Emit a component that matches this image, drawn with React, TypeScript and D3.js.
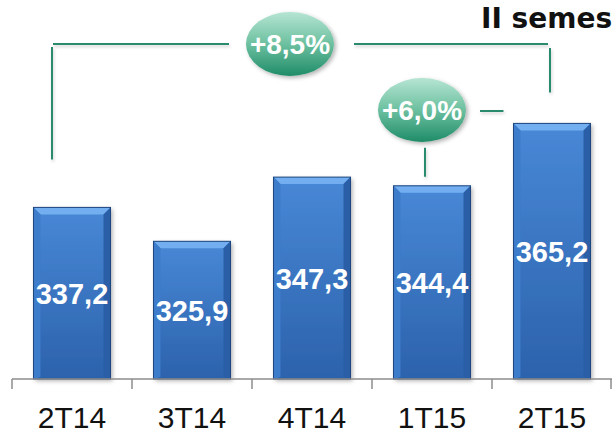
import React from 'react';
import * as d3 from 'd3';

const categories = ['2T14', '3T14', '4T14', '1T15', '2T15'];
const values = [337.2, 325.9, 347.3, 344.4, 365.2];
const valueLabels = ['337,2', '325,9', '347,3', '344,4', '365,2'];
const growthLabels = ['+8,5%', '+6,0%'];
const title = 'II semestre';

document.body.style.margin = '0';

const W = 612;
const H = 433;

const App = () => {
  const x = d3.scaleBand().domain(categories).range([12, 612]).paddingInner(0.358).paddingOuter(0.179);
  const y = d3.scaleLinear().domain([280, 380]).range([379, 79]);
  const bw = x.bandwidth();
  const cx = (c) => (x(c) ?? 0) + bw / 2;
  const bev = 7;

  // bracket geometry from scales
  const first = categories[0];
  const last = categories[categories.length - 1];
  const prev = categories[3];
  const b1 = { x: 290, y: 44 };
  const b2 = { x: 422, y: 110 };
  const lx = cx(first) - 20;
  const rx = cx(last) - 2;
  const green = '#2b8a6e';

  return (
    <svg width={W} height={H} style={{ display: 'block', background: '#fff' }} fontFamily="'Liberation Sans', Arial, sans-serif">
      <defs>
        <linearGradient id="barG" x1="0" y1="0" x2="0" y2="1">
          <stop offset="0" stopColor="#4888d6" />
          <stop offset="1" stopColor="#2c62ac" />
        </linearGradient>
        <linearGradient id="bubG" x1="0" y1="0" x2="0" y2="1">
          <stop offset="0" stopColor="#b6e5d3" />
          <stop offset="0.5" stopColor="#6cc0a0" />
          <stop offset="1" stopColor="#1f8c68" />
        </linearGradient>
        <filter id="sh" x="-20%" y="-20%" width="150%" height="150%">
          <feDropShadow dx="2" dy="2" stdDeviation="2" floodColor="#000" floodOpacity="0.3" />
        </filter>
        <filter id="lsh" x="-20%" y="-50%" width="150%" height="300%">
          <feDropShadow dx="1" dy="2" stdDeviation="1.5" floodColor="#000" floodOpacity="0.18" />
        </filter>
      </defs>

      <text x={481} y={28} fontSize={28} fontWeight="bold" fill="#111" fontFamily="'DejaVu Sans', sans-serif">{title}</text>

      {/* brackets */}
      <g stroke={green} strokeWidth={2} fill="none" filter="url(#lsh)">
        <path d={`M${lx},${y(values[0]) - 48} V${b1.y + 3}`} />
        <path d={`M${lx + 1},${b1.y} H${b1.x - 61}`} />
        <path d={`M${b1.x + 64},${b1.y} H${rx - 2}`} />
        <path d={`M${rx},${b1.y + 4} V${y(values[4]) - 31}`} />
        <path d={`M${cx(prev) - 7},${y(values[3]) - 9} V${y(values[3]) - 38}`} />
        <path d={`M${b2.x + 58},${b2.y + 1} H${x(last)! - 10}`} />
      </g>

      {/* bars */}
      {categories.map((c, i) => {
        const x0 = x(c) ?? 0;
        const y0 = y(values[i]);
        const h = y(280) - y0;
        return (
          <g key={c}>
            <rect x={x0} y={y0} width={bw} height={h} fill="url(#barG)" filter="url(#sh)" />
            <polygon points={`${x0},${y0} ${x0 + bw},${y0} ${x0 + bw - bev},${y0 + bev} ${x0 + bev},${y0 + bev}`} fill="#73aef0" />
            <polygon points={`${x0},${y0} ${x0 + bev},${y0 + bev} ${x0 + bev},${y0 + h - 2} ${x0},${y0 + h}`} fill="#3d7cca" />
            <polygon points={`${x0 + bw},${y0} ${x0 + bw - bev},${y0 + bev} ${x0 + bw - bev},${y0 + h - 2} ${x0 + bw},${y0 + h}`} fill="#2a5ea6" />
            <rect x={x0} y={y0} width={bw} height={h} fill="none" stroke="#1d467f" strokeWidth={1} />
            <text x={cx(c)} y={(y0 + y(280)) / 2 + 11} textAnchor="middle" fontSize={29} fontWeight="bold" fill="#fff">{valueLabels[i]}</text>
          </g>
        );
      })}

      {/* axis */}
      <g stroke="#8c8c8c" strokeWidth={1.5}>
        <line x1={12} x2={612} y1={y(280)} y2={y(280)} />
        {categories.map((c) => (
          <line key={c} x1={x(c)! - x.step() * x.paddingInner() / 2} x2={x(c)! - x.step() * x.paddingInner() / 2} y1={y(280)} y2={y(280) + 10} />
        ))}
        <line x1={611} x2={611} y1={y(280)} y2={y(280) + 10} />
      </g>
      {categories.map((c) => (
        <text key={c} x={cx(c)} y={428} textAnchor="middle" fontSize={30} fill="#111">{c}</text>
      ))}

      {/* growth bubbles */}
      {[b1, b2].map((b, i) => (
        <g key={i}>
          <ellipse cx={b.x} cy={b.y} rx={44} ry={32} fill="url(#bubG)" filter="url(#sh)" />
          <text x={b.x} y={b.y + 10} textAnchor="middle" fontSize={28} fontWeight="bold" fill="#fff">{growthLabels[i]}</text>
        </g>
      ))}
    </svg>
  );
};

export default App;
